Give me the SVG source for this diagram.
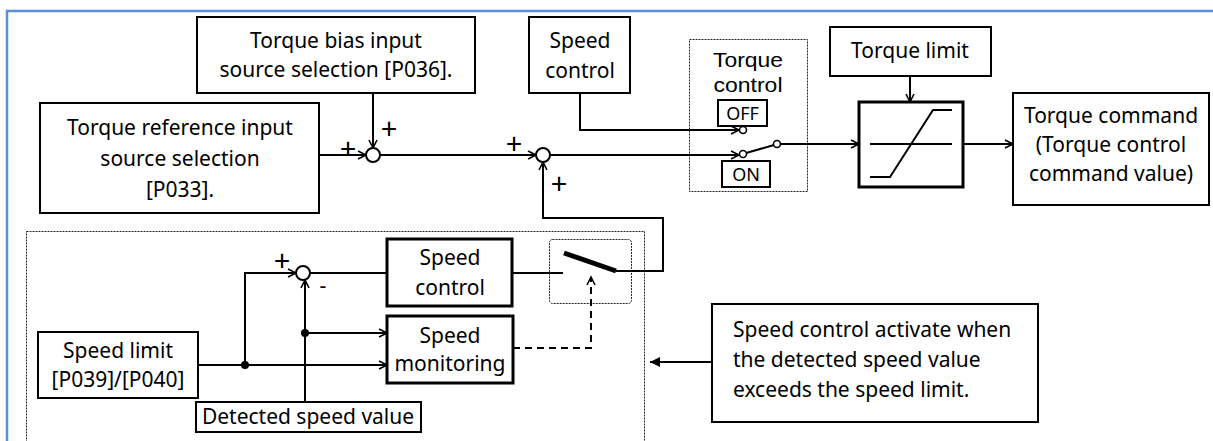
<svg xmlns="http://www.w3.org/2000/svg" width="1213" height="441" viewBox="0 0 1213 441">
<style>
text{font-family:"Noto Sans","Liberation Sans",sans-serif;font-size:21px;fill:#000;text-anchor:middle}
.box{fill:#fff;stroke:#000;stroke-width:2}
.thick{fill:#fff;stroke:#000;stroke-width:3}
.dot{fill:none;stroke:#222;stroke-width:1;stroke-dasharray:2 1}
.ln{fill:none;stroke:#000;stroke-width:2}
.arr{marker-end:url(#ah)}
.sum{fill:#fff;stroke:#000;stroke-width:2}
.small{font-size:18px}
.mid{font-family:"Liberation Sans",Arial,sans-serif;font-size:21px}
.plus{font-size:29px}
.left{text-anchor:start}
</style>
<defs>
<marker id="ah" markerUnits="userSpaceOnUse" markerWidth="12" markerHeight="12" refX="9" refY="5" orient="auto">
<path d="M1,1 L9,5 L1,9" fill="none" stroke="#000" stroke-width="1.6"/>
</marker>
<marker id="fa" markerUnits="userSpaceOnUse" markerWidth="12" markerHeight="12" refX="10" refY="5" orient="auto">
<path d="M0,0 L10,5 L0,10 Z" fill="#000"/>
</marker>
</defs>
<rect width="1213" height="441" fill="#fff"/>
<path d="M7,441 V11 H1213" fill="none" stroke="#5b8ed6" stroke-width="2.5"/>

<rect class="dot" x="26.5" y="231.5" width="618" height="215"/>
<rect class="dot" x="689.5" y="39.5" width="118" height="152"/>
<rect class="dot" x="549.5" y="239.5" width="82" height="64" rx="3"/>

<g id="connectors">
<path class="ln arr" d="M319,155 H366"/>
<path class="ln arr" d="M373,93 V148"/>
<path class="ln arr" d="M380,155 H536"/>
<path class="ln arr" d="M616,271 H663 V218 H543 V162"/>
<path class="ln arr" d="M550,155 H739"/>
<path class="ln arr" d="M580,93 V130 H739"/>
<path class="ln" d="M746,153 L774,145"/>
<path class="ln arr" d="M781,144 H859"/>
<path class="ln arr" d="M910,76 V102"/>
<path class="ln arr" d="M963,144 H1013"/>
<path class="ln arr" d="M198,365 H387"/>
<path class="ln arr" d="M245,365 V273 H296"/>
<path class="ln arr" d="M305,402 V280"/>
<path class="ln arr" d="M305,333 H387"/>
<path class="ln" d="M310,273 H387"/>
<path class="ln" d="M512,273 H563"/>
<path d="M564,253 L616,271" stroke="#000" stroke-width="5" fill="none"/>
<path class="ln arr" d="M513,348 H591 V277" stroke-dasharray="7 5"/>
<path class="ln" d="M712,362 H650" marker-end="url(#fa)"/>
<circle cx="245" cy="365" r="4" fill="#000"/>
<circle cx="305" cy="333" r="4" fill="#000"/>
<circle cx="743" cy="130" r="3.5" fill="#fff" stroke="#000" stroke-width="1.6"/>
<circle cx="743" cy="154" r="3.5" fill="#fff" stroke="#000" stroke-width="1.6"/>
<circle cx="777" cy="144" r="3.5" fill="#fff" stroke="#000" stroke-width="1.6"/>
</g>

<g id="sum1"><circle class="sum" cx="373" cy="155" r="7"/>
<text class="plus" x="348" y="158.5">+</text><text class="plus" x="389" y="138.5">+</text></g>
<g id="sum2"><circle class="sum" cx="543" cy="155" r="7"/>
<text class="plus" x="514" y="153.5">+</text><text class="plus" x="559" y="193.5">+</text></g>
<g id="sum3"><circle class="sum" cx="303" cy="273" r="7"/>
<text class="plus" x="282" y="270.5">+</text><text x="323" y="293">-</text></g>

<g id="bias"><rect class="box" x="197" y="17" width="278" height="76"/>
<text x="336" y="48">Torque bias input</text><text x="336" y="77">source selection [P036].</text></g>
<g id="torqueref"><rect class="box" x="40" y="103" width="279" height="110"/>
<text x="180" y="135">Torque reference input</text><text x="180" y="166">source selection</text><text x="180" y="197">[P033].</text></g>
<g id="speedctl-top"><rect class="box" x="529" y="17" width="101" height="76"/>
<text x="580" y="48">Speed</text><text x="580" y="78">control</text></g>
<g id="torquectl"><text class="mid" x="748" y="67" textLength="70" lengthAdjust="spacingAndGlyphs">Torque</text><text class="mid" x="748" y="91.5" textLength="69" lengthAdjust="spacingAndGlyphs">control</text>
<rect class="box" x="718" y="100" width="49" height="26"/><text class="small" x="742.5" y="120">OFF</text>
<rect class="box" x="722" y="161" width="48" height="26"/><text class="small" x="746" y="181">ON</text></g>
<g id="torquelimit"><rect class="box" x="830" y="27" width="161" height="49"/>
<text x="910" y="58">Torque limit</text></g>
<g id="limiter"><rect class="thick" x="859" y="102" width="104" height="85"/>
<path class="ln" d="M870,144 H952 M870,177 H890 L933,110 H952"/></g>
<g id="torquecmd"><rect class="box" x="1013" y="93" width="196" height="112"/>
<text x="1111" y="123">Torque command</text><text x="1111" y="152">(Torque control</text><text x="1111" y="181">command value)</text></g>
<g id="speedlimit"><rect class="box" x="38" y="332" width="160" height="66"/>
<text x="118" y="358">Speed limit</text><text x="118" y="387">[P039]/[P040]</text></g>
<g id="detected"><rect class="box" x="196" y="402" width="225" height="30"/>
<text x="308" y="424">Detected speed value</text></g>
<g id="speedctl"><rect class="thick" x="387" y="239" width="125" height="67"/>
<text x="450" y="265">Speed</text><text x="450" y="295">control</text></g>
<g id="speedmon"><rect class="thick" x="387" y="316" width="126" height="67"/>
<text x="450" y="343">Speed</text><text x="450" y="371">monitoring</text></g>
<g id="note"><rect class="box" x="712" y="304" width="326" height="118"/>
<text class="left" x="733" y="337">Speed control activate when</text><text class="left" x="733" y="367">the detected speed value</text><text class="left" x="733" y="397">exceeds the speed limit.</text></g>
</svg>
